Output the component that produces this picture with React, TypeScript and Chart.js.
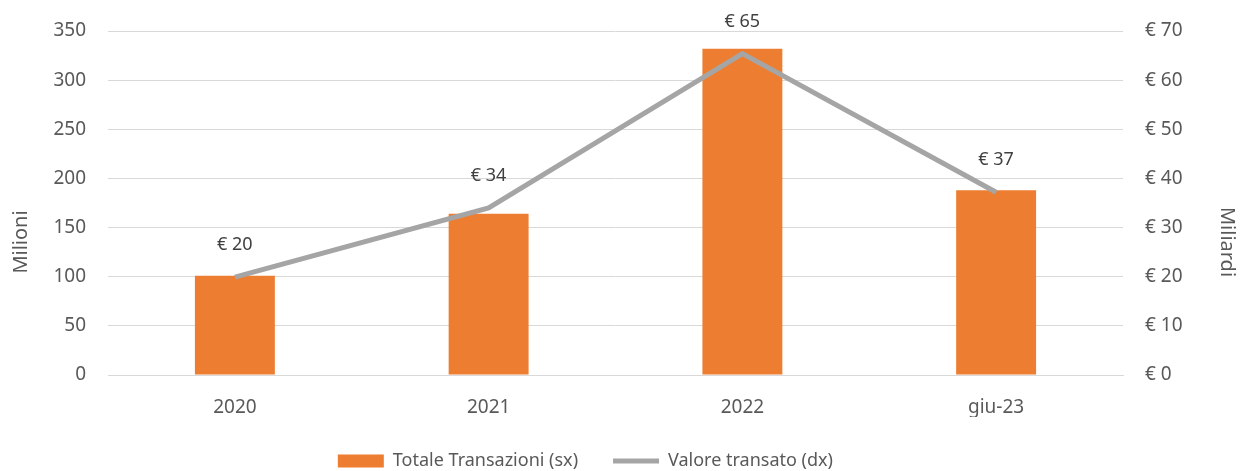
import React, { useEffect, useRef } from "react";
import { Chart, registerables } from "chart.js";

Chart.register(...registerables);

const categories = ["2020", "2021", "2022", "giu-23"];
const transazioni = [101, 164, 332, 188];
const valore = [19.9, 34, 65.4, 37.2];
const valoreLabels = ["€ 20", "€ 34", "€ 65", "€ 37"];
const leftTicks = [0, 50, 100, 150, 200, 250, 300, 350];
const rightTicks = [0, 10, 20, 30, 40, 50, 60, 70];

const FONT = "'Noto Sans', 'Open Sans', sans-serif";
const TEXT = "#595959";
const NB = "\u00a0";

const lineLabelPlugin = {
  id: "lineLabels",
  afterDatasetsDraw(chart: any) {
    const meta = chart.getDatasetMeta(1);
    const ctx = chart.ctx;
    ctx.save();
    ctx.font = `18px ${FONT}`;
    ctx.fillStyle = "#404040";
    ctx.textAlign = "center";
    ctx.textBaseline = "middle";
    meta.data.forEach((pt: any, i: number) => {
      ctx.fillText(valoreLabels[i], pt.x, pt.y - 32);
    });
    ctx.restore();
  },
};

export default function App() {
  const ref = useRef<HTMLCanvasElement>(null);
  useEffect(() => {
    document.body.style.margin = "0";
    const chart = new Chart(ref.current!, {
      type: "bar",
      data: {
        labels: categories,
        datasets: [
          {
            type: "bar",
            label: "Totale Transazioni (sx)",
            data: transazioni,
            backgroundColor: "#ed7d31",
            yAxisID: "y",
            categoryPercentage: 1,
            barPercentage: 0.315,
            order: 2,
          },
          {
            type: "line",
            label: "Valore transato (dx)",
            data: valore,
            borderColor: "#a5a5a5",
            backgroundColor: "#a5a5a5",
            borderWidth: 5,
            pointRadius: 0,
            tension: 0,
            yAxisID: "y1",
            order: 1,
          } as any,
        ],
      },
      options: {
        animation: false,
        responsive: false,
        maintainAspectRatio: false,
        layout: { padding: { top: 31, bottom: -9, left: 0, right: 0 } },
        plugins: {
          tooltip: { enabled: false },
          legend: {
            position: "bottom",
            labels: {
              font: { family: FONT, size: 18 },
              color: TEXT,
              usePointStyle: true,
              pointStyleWidth: 46,
              boxHeight: 13,
              padding: 35,
              generateLabels: () => [
                {
                  text: "Totale Transazioni (sx)",
                  fillStyle: "#ed7d31",
                  strokeStyle: "#ed7d31",
                  lineWidth: 0,
                  pointStyle: "rect",
                  datasetIndex: 0,
                  fontColor: TEXT,
                },
                {
                  text: "Valore transato (dx)" + NB.repeat(15),
                  fillStyle: "#a5a5a5",
                  strokeStyle: "#a5a5a5",
                  lineWidth: 5,
                  pointStyle: "line",
                  datasetIndex: 1,
                  fontColor: TEXT,
                },
              ],
            },
          },
        },
        scales: {
          x: {
            grid: { display: false },
            border: { display: true, color: "#d9d9d9" },
            ticks: { font: { family: FONT, size: 19 }, color: TEXT, padding: 13 },
            afterFit: (s: any) => {
              s.height = 42;
            },
          },
          y: {
            position: "left",
            min: 0,
            max: 350,
            afterBuildTicks: (s: any) => {
              s.ticks = leftTicks.map((v) => ({ value: v }));
            },
            grid: { color: "#d9d9d9", lineWidth: 1, drawTicks: false },
            border: { display: false },
            ticks: { font: { family: FONT, size: 19 }, color: TEXT, padding: 22 },
            title: {
              display: true,
              text: "Milioni" + NB.repeat(15),
              font: { family: FONT, size: 20 },
              color: TEXT,
              padding: { top: 9, bottom: 4 },
            },
            afterFit: (s: any) => {
              s.width = 108;
              s.paddingTop = 0;
              s.paddingBottom = 0;
            },
          },
          y1: {
            position: "right",
            min: 0,
            max: 70,
            afterBuildTicks: (s: any) => {
              s.ticks = rightTicks.map((v) => ({ value: v }));
            },
            grid: { display: false, drawTicks: false },
            border: { display: false },
            ticks: {
              font: { family: FONT, size: 19 },
              color: TEXT,
              padding: 22,
              callback: (v: any) => `€ ${v}`,
            },
            title: {
              display: true,
              text: NB.repeat(15) + "Miliardi",
              font: { family: FONT, size: 20 },
              color: TEXT,
              padding: { top: 2, bottom: 4 },
            },
            afterFit: (s: any) => {
              s.width = 118;
              s.paddingTop = 0;
              s.paddingBottom = 0;
            },
          },
        },
      },
      plugins: [lineLabelPlugin],
    });
    return () => chart.destroy();
  }, []);
  return (
    <div style={{ width: 1241, height: 471, background: "#fff" }}>
      <canvas ref={ref} width={1241} height={471} />
    </div>
  );
}
